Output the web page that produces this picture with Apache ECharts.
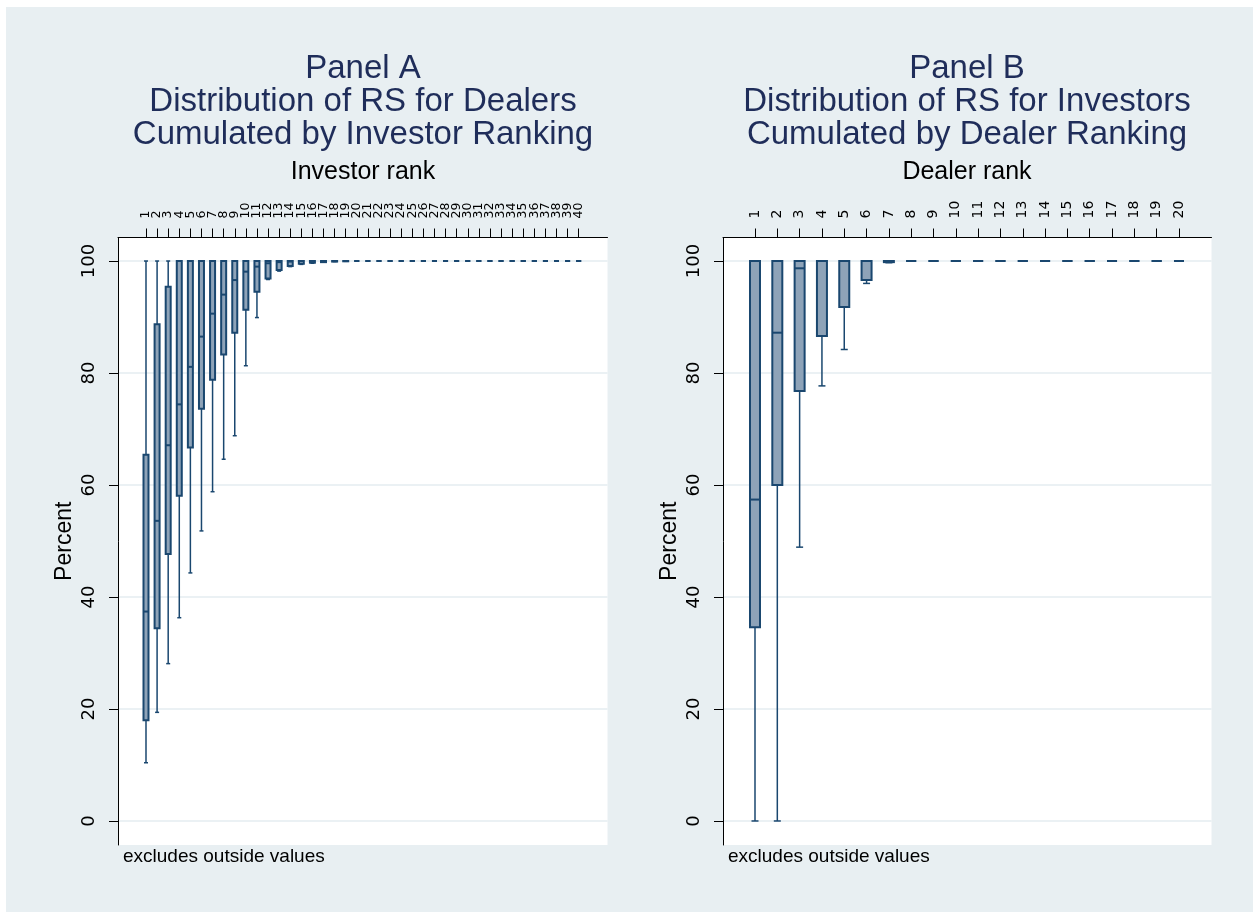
<!DOCTYPE html>
<html>
<head>
<meta charset="utf-8">
<title>RS distribution</title>
<script src="https://cdn.jsdelivr.net/npm/echarts@6/dist/echarts.min.js"></script>
</head>
<body style="margin:0;background:#fff;">
<div id="main" style="width:1253px;height:912px;"></div>
<script>
// Panel A: RS for dealers, cumulated by investor rank
var rankA = ['1','2','3','4','5','6','7','8','9','10','11','12','13','14','15','16','17','18','19','20',
             '21','22','23','24','25','26','27','28','29','30','31','32','33','34','35','36','37','38','39','40'];
var aLow  = [10.4,19.4,28.1,36.3,44.3,51.8,58.8,64.6,68.8,81.3,89.9,96.7,98.2,99.0,99.4,99.6,99.8,99.9,99.95,100,
             100,100,100,100,100,100,100,100,100,100,100,100,100,100,100,100,100,100,100,100];
var aQ1   = [18.0,34.4,47.7,58.1,66.7,73.6,78.8,83.3,87.2,91.3,94.5,96.9,98.4,99.1,99.5,99.7,99.8,99.9,99.95,100,
             100,100,100,100,100,100,100,100,100,100,100,100,100,100,100,100,100,100,100,100];
var aMed  = [37.4,53.6,67.1,74.4,81.1,86.5,90.6,94.0,96.6,98.1,99.0,99.6,99.8,99.9,100,100,100,100,100,100,
             100,100,100,100,100,100,100,100,100,100,100,100,100,100,100,100,100,100,100,100];
var aQ3   = [65.4,88.7,95.4,100,100,100,100,100,100,100,100,100,100,100,100,100,100,100,100,100,
             100,100,100,100,100,100,100,100,100,100,100,100,100,100,100,100,100,100,100,100];
var aHigh = [100,100,100,100,100,100,100,100,100,100,100,100,100,100,100,100,100,100,100,100,
             100,100,100,100,100,100,100,100,100,100,100,100,100,100,100,100,100,100,100,100];

// Panel B: RS for investors, cumulated by dealer rank
var rankB = ['1','2','3','4','5','6','7','8','9','10','11','12','13','14','15','16','17','18','19','20'];
var bLow  = [0,0,48.9,77.7,84.2,96.0,99.7,100,100,100,100,100,100,100,100,100,100,100,100,100];
var bQ1   = [34.6,60.0,76.8,86.6,91.8,96.6,99.8,100,100,100,100,100,100,100,100,100,100,100,100,100];
var bMed  = [57.4,87.2,98.7,100,100,100,100,100,100,100,100,100,100,100,100,100,100,100,100,100];
var bQ3   = [100,100,100,100,100,100,100,100,100,100,100,100,100,100,100,100,100,100,100,100];
var bHigh = [100,100,100,100,100,100,100,100,100,100,100,100,100,100,100,100,100,100,100,100];

var yTicks = [0, 20, 40, 60, 80, 100];

var navy = '#1a476f';
var boxFill = '#8ea3b8';
var titleColor = '#1f2d5a';
var sans = 'Liberation Sans';
var yMin = -4.29, yMax = 104.2;

function rows(low, q1, med, q3, high) {
    var out = [];
    for (var i = 0; i < low.length; i++) {
        out.push([i, low[i], q1[i], med[i], q3[i], high[i]]);
    }
    return out;
}

// box + whiskers, drawn through the axes' own coord()
function boxRenderer(boxW, capW) {
    return function (params, api) {
        var x = api.value(0);
        var lo = api.coord([x, api.value(1)]);
        var q1 = api.coord([x, api.value(2)]);
        var md = api.coord([x, api.value(3)]);
        var q3 = api.coord([x, api.value(4)]);
        var hi = api.coord([x, api.value(5)]);
        var cx = lo[0];
        var ln = { stroke: navy, lineWidth: 1.5 };
        return {
            type: 'group',
            children: [
                { type: 'line', shape: { x1: cx, y1: hi[1], x2: cx, y2: q3[1] }, style: ln },
                { type: 'line', shape: { x1: cx, y1: q1[1], x2: cx, y2: lo[1] }, style: ln },
                { type: 'line', shape: { x1: cx - capW / 2, y1: hi[1], x2: cx + capW / 2, y2: hi[1] }, style: ln },
                { type: 'line', shape: { x1: cx - capW / 2, y1: lo[1], x2: cx + capW / 2, y2: lo[1] }, style: ln },
                { type: 'rect', shape: { x: cx - boxW / 2, y: q3[1], width: boxW, height: q1[1] - q3[1] },
                  style: { fill: boxFill, stroke: navy, lineWidth: 2 } },
                { type: 'line', shape: { x1: cx - boxW / 2, y1: md[1], x2: cx + boxW / 2, y2: md[1] },
                  style: { stroke: navy, lineWidth: 2 } }
            ]
        };
    };
}

function frameY(idx) {
    return {
        gridIndex: idx, type: 'value', min: yMin, max: yMax,
        name: 'Percent', nameLocation: 'middle', nameGap: 42, nameRotate: 90,
        nameTextStyle: { color: '#000', fontFamily: sans, fontSize: 23 },
        axisLine: { show: true, onZero: false, lineStyle: { color: '#000', width: 1 } },
        axisTick: { show: true, length: 9, customValues: yTicks, lineStyle: { color: '#000' } },
        axisLabel: { customValues: yTicks, rotate: 90, margin: 20, color: '#000',
                     fontFamily: 'DejaVu Sans', fontSize: 18 },
        splitLine: { show: true, lineStyle: { color: '#e4edf0', width: 1.5 } }
    };
}
function frameX(idx) {
    return {
        gridIndex: idx, type: 'value', position: 'top', min: 0, max: 1,
        axisLine: { show: true, onZero: false, lineStyle: { color: '#000', width: 1 } },
        axisTick: { show: false }, axisLabel: { show: false }, splitLine: { show: false }
    };
}
function dataX(idx, cats, fs) {
    return {
        gridIndex: idx, type: 'category', position: 'top', data: cats,
        axisLine: { show: false, onZero: false },
        axisTick: { show: true, alignWithLabel: true, length: 9, interval: 0, lineStyle: { color: '#000' } },
        axisLabel: { interval: 0, rotate: -90, margin: 19, color: '#000', fontFamily: 'DejaVu Sans', fontSize: fs },
        splitLine: { show: false }
    };
}
function dataY(idx) {
    return { gridIndex: idx, type: 'value', min: yMin, max: yMax, show: false };
}

var chart = echarts.init(document.getElementById('main'));
chart.setOption({
    backgroundColor: '#e8eff2',
    animation: false,
    graphic: [
        { type: 'rect', shape: { x: 0, y: 0, width: 1253, height: 7 }, style: { fill: '#fff' } },
        { type: 'rect', shape: { x: 0, y: 0, width: 6, height: 912 }, style: { fill: '#fff' } }
    ],
    title: [
        { text: 'Panel A\nDistribution of RS for Dealers\nCumulated by Investor Ranking',
          left: 363, top: 52, padding: 0, textAlign: 'center',
          textStyle: { color: titleColor, fontFamily: sans, fontSize: 33, lineHeight: 33, fontWeight: 'normal' } },
        { text: 'Panel B\nDistribution of RS for Investors\nCumulated by Dealer Ranking',
          left: 967, top: 52, padding: 0, textAlign: 'center',
          textStyle: { color: titleColor, fontFamily: sans, fontSize: 33, lineHeight: 33, fontWeight: 'normal' } },
        { text: 'Investor rank', left: 363, top: 159, padding: 0, textAlign: 'center',
          textStyle: { color: '#000', fontFamily: sans, fontSize: 25, lineHeight: 26, fontWeight: 'normal' } },
        { text: 'Dealer rank', left: 967, top: 159, padding: 0, textAlign: 'center',
          textStyle: { color: '#000', fontFamily: sans, fontSize: 25, lineHeight: 26, fontWeight: 'normal' } },
        { text: 'excludes outside values', left: 123, top: 847, padding: 0,
          textStyle: { color: '#000', fontFamily: sans, fontSize: 19, lineHeight: 20, fontWeight: 'normal' } },
        { text: 'excludes outside values', left: 728, top: 847, padding: 0,
          textStyle: { color: '#000', fontFamily: sans, fontSize: 19, lineHeight: 20, fontWeight: 'normal' } }
    ],
    grid: [
        { left: 118, top: 237.5, width: 489.5, height: 607.5, show: true, backgroundColor: '#fff', borderWidth: 0 },
        { left: 140.45, top: 237.5, width: 443.8, height: 607.5 },
        { left: 723, top: 237.5, width: 488.5, height: 607.5, show: true, backgroundColor: '#fff', borderWidth: 0 },
        { left: 743.84, top: 237.5, width: 446.3, height: 607.5 }
    ],
    xAxis: [frameX(0), dataX(1, rankA, 12.5), frameX(2), dataX(3, rankB, 14)],
    yAxis: [frameY(0), dataY(1), frameY(2), dataY(3)],
    series: [
        { type: 'custom', xAxisIndex: 1, yAxisIndex: 1, renderItem: boxRenderer(5, 4),
          encode: { x: 0, y: [1, 2, 3, 4, 5] }, data: rows(aLow, aQ1, aMed, aQ3, aHigh) },
        { type: 'custom', xAxisIndex: 3, yAxisIndex: 3, renderItem: boxRenderer(10, 7),
          encode: { x: 0, y: [1, 2, 3, 4, 5] }, data: rows(bLow, bQ1, bMed, bQ3, bHigh) }
    ]
});
</script>
</body>
</html>
